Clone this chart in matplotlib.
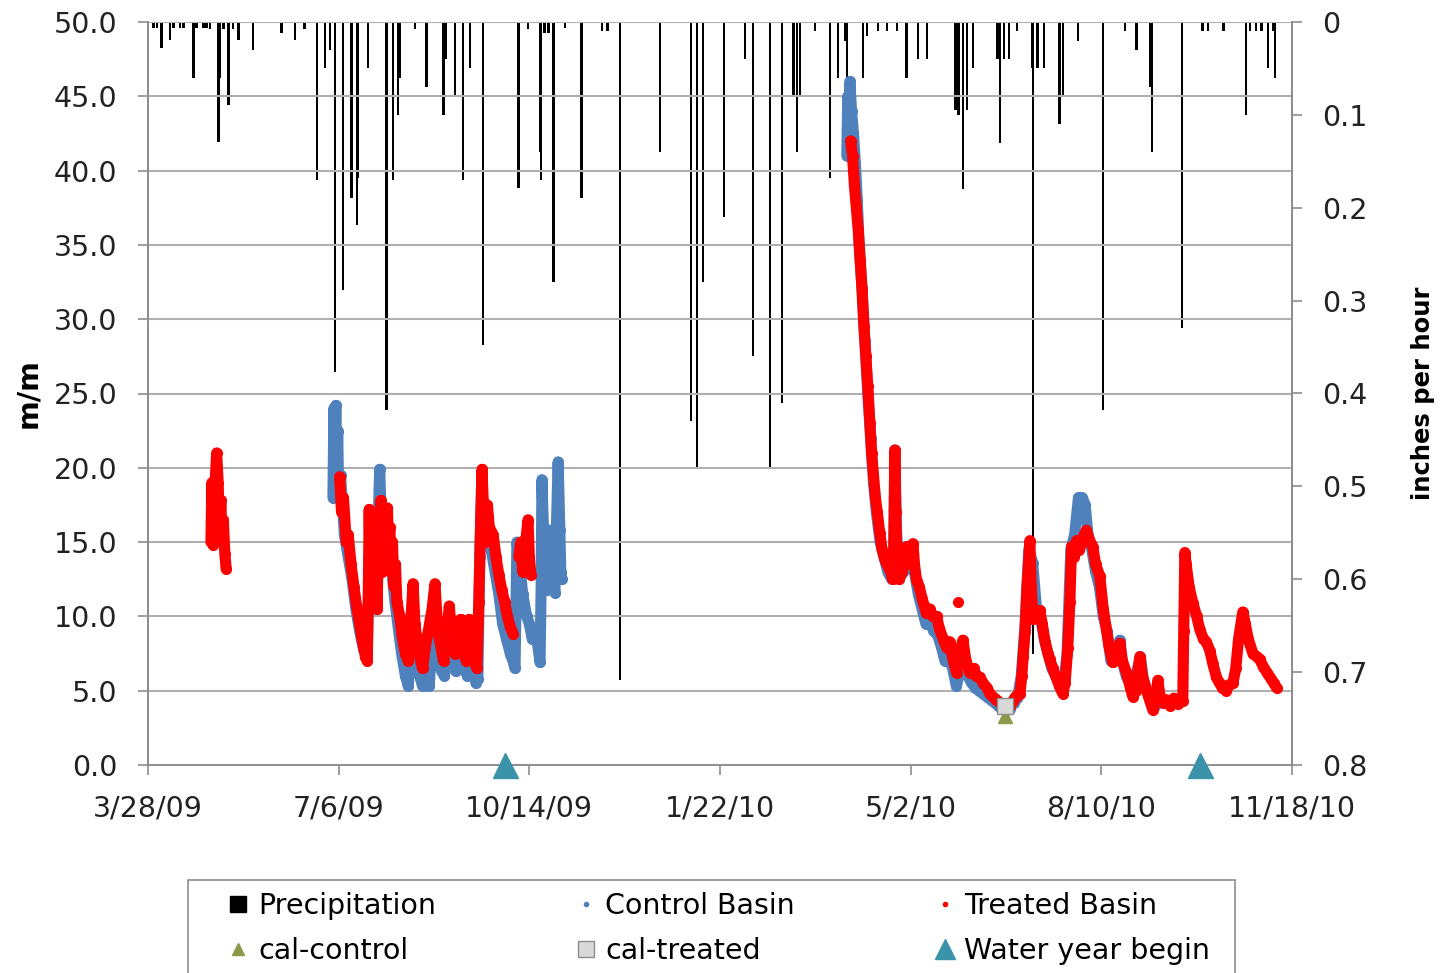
import matplotlib
matplotlib.use("Agg")
import matplotlib.pyplot as plt
from matplotlib.lines import Line2D
from matplotlib.patches import Rectangle
import numpy as np

plt.rcParams['font.family'] = ['DejaVu Sans']

# x values are days since 3/28/09
tick_days = [0, 100, 200, 300, 400, 500, 600]
tick_labels = ['3/28/09', '7/6/09', '10/14/09', '1/22/10', '5/2/10', '8/10/10', '11/18/10']

# precipitation (inches per hour)
precip_day = [2.8, 4.6, 7.2, 11.5, 13.3, 16.8, 18.5, 23.8, 25.5, 29.0,
              30.8, 32.5, 36.9, 37.8, 39.5, 42.1, 44.7, 47.4, 55.2, 70.0,
              77.0, 82.0, 88.5, 92.8, 95.4, 98.0, 102.3, 106.8, 109.7, 110.2,
              115.5, 125.2, 128.5, 131.0, 132.2, 140.0, 146.1, 154.9, 156.3, 161.0,
              165.3, 168.9, 175.8, 194.2, 199.3, 205.6, 206.2, 208.0, 210.0, 212.6,
              218.6, 227.4, 238.0, 241.0, 247.5, 268.5, 284.7, 287.9, 291.0, 302.0,
              313.1, 317.3, 326.2, 332.5, 338.5, 340.3, 342.0, 349.8, 357.6, 361.8,
              365.5, 366.5, 374.9, 377.0, 382.8, 387.5, 392.8, 397.8, 403.8, 408.5,
              423.5, 425.0, 427.4, 429.5, 432.6, 445.5, 446.8, 449.0, 451.5, 455.7,
              463.5, 464.1, 466.5, 470.0, 478.0, 479.8, 487.7, 500.8, 512.3, 518.4,
              525.5, 526.5, 542.2, 553.0, 556.0, 564.0, 575.8, 578.0, 581.0, 584.0,
              587.3, 590.0, 591.0]
precip_val = [0.006, 0.006, 0.028, 0.019, 0.006, 0.006, 0.006, 0.060, 0.006, 0.006,
              0.006, 0.008, 0.129, 0.060, 0.008, 0.089, 0.008, 0.019, 0.030, 0.012,
              0.019, 0.008, 0.170, 0.050, 0.030, 0.377, 0.289, 0.190, 0.219, 0.168,
              0.050, 0.418, 0.170, 0.100, 0.060, 0.008, 0.070, 0.100, 0.040, 0.080,
              0.170, 0.050, 0.348, 0.179, 0.008, 0.140, 0.170, 0.012, 0.012, 0.280,
              0.006, 0.190, 0.010, 0.010, 0.708, 0.140, 0.430, 0.480, 0.280, 0.210,
              0.040, 0.360, 0.480, 0.410, 0.080, 0.140, 0.080, 0.010, 0.168, 0.060,
              0.020, 0.146, 0.060, 0.015, 0.010, 0.010, 0.010, 0.060, 0.040, 0.040,
              0.095, 0.100, 0.180, 0.095, 0.050, 0.040, 0.130, 0.040, 0.040, 0.010,
              0.050, 0.681, 0.050, 0.050, 0.110, 0.080, 0.020, 0.418, 0.010, 0.030,
              0.070, 0.140, 0.330, 0.010, 0.010, 0.010, 0.100, 0.010, 0.010, 0.010,
              0.050, 0.010, 0.060]

# treated basin (m/m), segments
treated_a_day = [33.0, 33.5, 34.2, 35.0, 36.0, 36.8, 37.5, 38.2, 38.8, 39.5, 40.3, 41.0]
treated_a_val = [15.0, 19.0, 14.8, 18.5, 21.0, 19.0, 15.5, 17.8, 15.2, 16.5, 14.2, 13.2]

treated_b_day = [100.5, 101.5, 102.5, 104.0, 105.0, 106.5, 108.0, 109.5, 111.0, 112.5, 114.0,
                 115.0, 115.5, 116.0, 116.6, 117.2, 117.8, 118.4, 119.0, 119.6, 120.2, 120.8,
                 121.4, 122.0, 122.6, 123.2, 123.8, 124.4, 125.0, 125.6, 126.2, 126.8, 127.5,
                 128.2, 129.0, 129.8, 130.5, 132.0, 133.5, 135.0, 136.5, 138.0, 139.0,
                 140.0, 141.5, 143.0, 144.0, 145.5, 147.0, 149.0, 150.5, 152.0, 153.5, 155.0,
                 156.5, 158.0, 159.5, 161.0, 162.5, 164.0, 165.5, 167.0, 168.5, 170.0, 171.5,
                 172.5, 173.5, 174.5, 175.2, 176.0, 177.0, 178.0, 179.0, 181.0, 182.5, 184.0,
                 185.5, 187.0, 188.5, 190.0, 191.5]
treated_b_val = [19.4, 17.0, 18.0, 15.0, 15.5, 13.5, 12.0, 10.6, 9.5, 8.3, 7.3,
                 7.0, 11.0, 17.2, 12.0, 16.5, 11.5, 16.0, 10.6, 12.5, 10.5, 16.0,
                 13.0, 17.8, 13.0, 17.0, 13.5, 17.0, 14.0, 17.3, 13.5, 16.0, 13.0,
                 15.0, 12.0, 13.5, 11.0, 10.0, 8.5, 7.5, 7.0, 10.0, 12.2,
                 9.5, 8.0, 7.0, 6.5, 8.0, 9.0, 10.5, 12.2, 9.0, 8.0, 7.0,
                 8.5, 10.7, 8.5, 7.5, 8.5, 9.8, 7.5, 7.0, 9.8, 8.0, 6.8,
                 6.5, 11.0, 16.5, 19.9, 17.0, 15.0, 17.5, 16.0, 15.5, 14.0, 12.8,
                 11.8, 11.0, 10.0, 9.3, 8.8]

treated_c_day = [194.5, 195.5, 196.5, 197.5, 198.5, 199.3, 200.0, 200.8]
treated_c_val = [14.0, 15.0, 13.0, 14.5, 15.5, 16.5, 14.0, 12.8]

treated_d_day = [368.5, 369.5, 370.5, 371.5, 372.5, 373.5, 374.5, 375.5, 376.5, 377.5, 378.6,
                 379.5, 380.5, 381.5, 382.5, 383.8, 385.0, 386.5, 388.0, 389.5, 390.5, 391.2,
                 391.7, 392.2, 392.8, 394.0, 395.5, 397.0, 397.8, 399.0, 400.0, 401.2, 402.0,
                 403.1, 404.5, 406.0, 408.3, 410.0, 411.5, 413.6, 415.0, 417.0, 418.8, 420.5,
                 422.0, 424.1, 425.5, 427.4, 429.0, 431.0, 433.0, 434.5, 436.3, 438.0, 440.0,
                 441.5, 443.0, 445.0, 446.8, 448.5, 450.3, 452.0, 453.5, 455.0, 457.3, 458.3,
                 459.0, 460.0, 461.0, 462.5, 463.2, 464.1, 465.5, 467.7, 469.0, 470.5, 472.0,
                 473.0, 474.5, 476.0, 478.0, 479.8, 481.0, 482.4, 483.5, 484.4, 485.5, 487.0,
                 488.5, 490.0, 491.0, 492.2, 493.5, 495.5, 497.0, 499.2, 501.0, 502.7, 504.0,
                 506.0, 507.5, 509.7, 511.0, 513.2, 515.0, 516.5, 518.0, 520.2, 521.5, 523.7,
                 525.0, 527.0, 528.5, 529.6, 531.0, 532.3, 534.0, 536.0, 538.0, 540.0, 541.5,
                 542.7, 543.2, 543.8, 544.5, 546.0, 548.0, 550.0, 551.7, 553.5, 555.0, 556.9,
                 558.5, 560.4, 562.0, 563.5, 565.6, 567.0, 569.0, 570.5, 572.0, 574.2, 575.5,
                 577.0, 579.5, 581.5, 583.1, 585.0, 587.0, 589.0, 590.5, 591.9]
treated_d_val = [42.0, 41.0, 39.0, 37.5, 36.0, 34.0, 32.0, 29.5, 27.5, 25.5, 23.0,
                 21.0, 19.5, 18.0, 17.0, 15.6, 14.5, 13.8, 13.4, 13.0, 12.5, 15.0,
                 21.2, 17.0, 13.5, 12.5, 13.0, 14.0, 14.7, 13.5, 14.0, 14.9, 13.5,
                 12.4, 12.0, 11.2, 10.2, 10.5, 10.0, 10.0, 9.2, 8.5, 7.9, 8.3,
                 7.2, 6.2, 7.5, 8.4, 7.0, 6.2, 6.5, 6.0, 5.9, 5.5, 5.2,
                 4.8, 4.6, 4.4, 4.2, 4.0, 3.9, 4.0, 4.3, 4.6, 4.8, 6.0,
                 7.3, 9.0, 12.0, 15.1, 12.0, 9.8, 10.0, 10.4, 9.5, 8.3, 7.5,
                 7.1, 6.5, 6.0, 5.3, 4.8, 5.5, 7.9, 11.0, 14.7, 14.0, 15.1,
                 14.5, 15.0, 15.5, 15.8, 15.2, 14.7, 13.5, 12.7, 10.5, 9.1, 8.0,
                 6.9, 7.5, 8.2, 7.0, 6.2, 5.3, 4.6, 5.0, 7.3, 6.0, 5.0,
                 4.5, 3.7, 4.5, 5.7, 4.5, 4.2, 4.4, 4.0, 4.5, 4.1, 4.4,
                 4.3, 9.0, 14.3, 13.5, 12.0, 10.9, 10.0, 9.1, 8.5, 8.3, 7.7,
                 6.8, 5.9, 5.5, 5.2, 5.0, 5.4, 5.5, 6.5, 8.5, 10.3, 9.5,
                 8.5, 7.5, 7.3, 7.1, 6.6, 6.2, 5.8, 5.5, 5.2]

treated_dot_day = [424.7]
treated_dot_val = [11.0]

# control basin (m/m), segments
control_a_day = [97.0, 97.5, 98.0, 98.5, 99.0, 99.5, 100.0, 101.0, 102.0, 103.0, 105.0, 107.0,
                 109.0, 111.0, 113.0, 115.0, 116.5, 118.0, 119.5, 121.5, 122.5, 124.0, 125.5,
                 127.5, 129.5, 131.0, 133.0, 135.0, 136.5, 138.0, 139.0, 140.5, 142.5, 144.0,
                 145.5, 147.5, 149.0, 150.5, 152.0, 154.0, 155.5, 157.0, 158.5, 160.0, 161.5,
                 163.0, 164.5, 166.0, 167.5, 169.0, 170.5, 172.0, 173.0, 174.0, 175.0, 176.5,
                 178.0, 180.0, 182.0, 184.0, 186.0, 188.0, 190.0, 191.4, 192.5, 193.5, 195.0,
                 196.5, 198.6, 200.0, 201.5, 203.8, 205.0, 205.6, 206.2, 206.6, 207.5, 208.5,
                 209.5, 210.8, 212.0, 213.4, 214.2, 215.1, 216.0, 216.5, 217.0]
control_a_val = [18.0, 24.0, 20.0, 24.2, 19.5, 22.5, 18.0, 19.5, 17.5, 15.5, 14.0, 12.5,
                 10.5, 9.0, 7.8, 7.5, 16.5, 14.5, 10.5, 19.9, 16.0, 15.0, 16.5,
                 13.5, 11.0, 9.5, 7.5, 6.0, 5.3, 8.0, 11.0, 8.0, 6.0, 5.3,
                 6.5, 5.3, 8.5, 11.0, 7.5, 6.3, 6.0, 7.5, 9.5, 7.0, 6.3,
                 7.5, 8.5, 6.5, 6.0, 8.5, 6.5, 5.5, 5.8, 14.0, 19.0, 16.0,
                 15.5, 14.5, 13.0, 11.5, 9.5, 8.5, 7.5, 7.0, 6.5, 15.0, 13.5,
                 11.5, 10.0, 9.5, 8.5, 8.6, 7.5, 6.9, 12.0, 19.2, 15.5, 13.0,
                 11.8, 15.8, 13.0, 11.6, 16.0, 20.4, 15.8, 13.0, 12.5]

control_b_day = [366.5, 367.0, 367.5, 368.1, 369.0, 370.0, 371.0, 372.0, 373.0, 374.5, 376.0,
                 377.5, 379.0, 380.5, 382.0, 384.0, 386.0, 388.0, 390.0, 391.2, 391.7, 392.5,
                 394.0, 396.0, 398.0, 400.0, 402.0, 404.0, 406.0, 408.0, 410.0, 412.0, 414.0,
                 416.0, 418.0, 420.0, 422.0, 424.0, 426.0, 428.0, 430.0, 432.0, 434.0, 436.0,
                 438.0, 440.0, 442.0, 444.0, 446.0, 448.0, 450.0, 452.0, 454.0, 456.0, 458.0,
                 460.0, 462.0, 464.0, 466.0, 468.0, 470.0, 472.0, 474.0, 476.0, 478.0, 480.0,
                 482.0, 484.0, 486.0, 488.0, 490.0, 491.5, 493.0, 495.0, 497.0, 499.0, 501.0,
                 503.0, 505.0, 507.0, 509.7, 511.0, 513.0, 515.0, 517.0, 519.0, 520.5, 522.0,
                 524.0, 526.0, 528.0]
control_b_val = [41.0, 45.0, 43.0, 46.0, 44.0, 42.5, 40.5, 38.0, 35.0, 32.0, 28.5,
                 25.0, 22.0, 19.0, 17.0, 15.0, 14.0, 13.0, 12.5, 14.5, 21.2, 16.0,
                 12.5, 13.0, 13.8, 13.5, 13.0, 11.5, 10.5, 9.5, 9.8, 9.0, 8.8,
                 8.0, 7.0, 7.2, 6.5, 5.3, 6.5, 7.5, 6.0, 5.5, 5.2, 5.0,
                 4.8, 4.6, 4.4, 4.2, 4.0, 3.8, 3.7, 3.8, 4.2, 4.5, 6.0,
                 9.5, 14.5, 13.6, 10.5, 10.0, 8.5, 7.5, 6.5, 6.0, 5.5, 5.0,
                 7.5, 14.5, 15.5, 18.0, 18.0, 17.5, 15.5, 14.5, 13.0, 12.0, 10.0,
                 9.0, 7.0, 7.5, 8.4, 7.0, 6.0, 5.5, 5.0, 6.5, 7.3, 5.8,
                 5.0, 4.2, 4.0]

# calibration points and water year start
cal_day = [449.4]
cal_control_val = [3.3]
cal_treated_val = [4.0]
water_year_day = [187.0, 552.0]
water_year_val = [0.0, 0.0]

red = '#ff0000'
blue = '#4f81bd'
teal = '#3a93a8'
olive = '#8a9a4a'
grid_gray = '#b0b0b0'
axis_gray = '#8c8c8c'
fs = 20.5

fig = plt.figure(figsize=(14.48, 9.73), dpi=100)
ax = fig.add_axes([148 / 1448, 1 - 765 / 973, (1292 - 148) / 1448, (765 - 22) / 973])
ax2 = ax.twinx()

# precipitation hanging from the top
ax2.bar(precip_day, precip_val, width=1.3, color='black', linewidth=0)
ax2.set_ylim(0.8, 0)
ax2.set_yticks(np.arange(0, 0.81, 0.1))
ax2.set_yticklabels(['0', '0.1', '0.2', '0.3', '0.4', '0.5', '0.6', '0.7', '0.8'])
ax2.set_ylabel('inches per hour', fontsize=17.5, fontweight='bold', labelpad=31)

ax.set_zorder(ax2.get_zorder() + 1)
ax.patch.set_visible(False)

line_kw = dict(lw=8, marker='o', ms=7, solid_joinstyle='round', solid_capstyle='round')
for d, v in [(control_a_day, control_a_val), (control_b_day, control_b_val)]:
    ax.plot(d, v, color=blue, zorder=3, **line_kw)
for d, v in [(treated_a_day, treated_a_val), (treated_b_day, treated_b_val),
             (treated_c_day, treated_c_val), (treated_d_day, treated_d_val)]:
    ax.plot(d, v, color=red, zorder=4, **line_kw)
ax.plot(treated_dot_day, treated_dot_val, 'o', color=red, ms=7, zorder=4)

ax.plot(cal_day, cal_control_val, '^', color=olive, ms=10, zorder=5, clip_on=False)
ax.plot(cal_day, cal_treated_val, 's', color='#d9d9d9', mec=axis_gray, mew=1, ms=11, zorder=6)
ax.plot(water_year_day, water_year_val, '^', color=teal, ms=18, zorder=6, clip_on=False)

ax.set_xlim(0, 600)
ax.set_ylim(0, 50)
ax.set_yticks(np.arange(0, 50.1, 5))
ax.set_yticklabels(['%.1f' % t for t in np.arange(0, 50.1, 5)])
ax.set_xticks(tick_days)
ax.set_xticklabels(tick_labels)
ax.set_ylabel('m/m', fontsize=fs, fontweight='bold', labelpad=8)
ax.grid(axis='y', color=grid_gray, lw=1.5)
ax.set_axisbelow(True)

for a in (ax, ax2):
    a.spines['top'].set_visible(False)
    for side in ('left', 'right', 'bottom'):
        a.spines[side].set_color(axis_gray)
        a.spines[side].set_linewidth(1.2)
    a.tick_params(labelcolor='#222222', labelsize=fs, length=7, width=1.2, color=axis_gray)
ax.tick_params(axis='x', pad=14)
ax.tick_params(axis='y', pad=15)
ax2.tick_params(axis='y', pad=15)

# legend box below the plot (runs off the bottom edge)
fig.patches.append(Rectangle((188 / 1448, -0.05), (1235 - 188) / 1448, 0.05 + 1 - 880 / 973,
                             transform=fig.transFigure, fill=False, edgecolor=axis_gray, lw=1.2))
handles = [
    Line2D([], [], marker='s', color='black', ls='', ms=12),
    Line2D([], [], marker='^', color=olive, ls='', ms=9),
    Line2D([], [], marker='.', color=blue, ls='', ms=6),
    Line2D([], [], marker='s', color='#d9d9d9', mec=axis_gray, ls='', ms=11),
    Line2D([], [], marker='.', color=red, ls='', ms=6),
    Line2D([], [], marker='^', color=teal, ls='', ms=15),
]
labels = ['Precipitation', 'cal-control', 'Control Basin', 'cal-treated',
          'Treated Basin', 'Water year begin']
fig.legend(handles, labels, loc='upper left', bbox_to_anchor=(224 / 1448, 1 - 892 / 973),
           ncol=3, fontsize=fs, frameon=False, borderpad=0, borderaxespad=0,
           handlelength=1.0, handletextpad=0.2, columnspacing=4.75, labelspacing=0.6)

fig.savefig('out.png', dpi=100)
